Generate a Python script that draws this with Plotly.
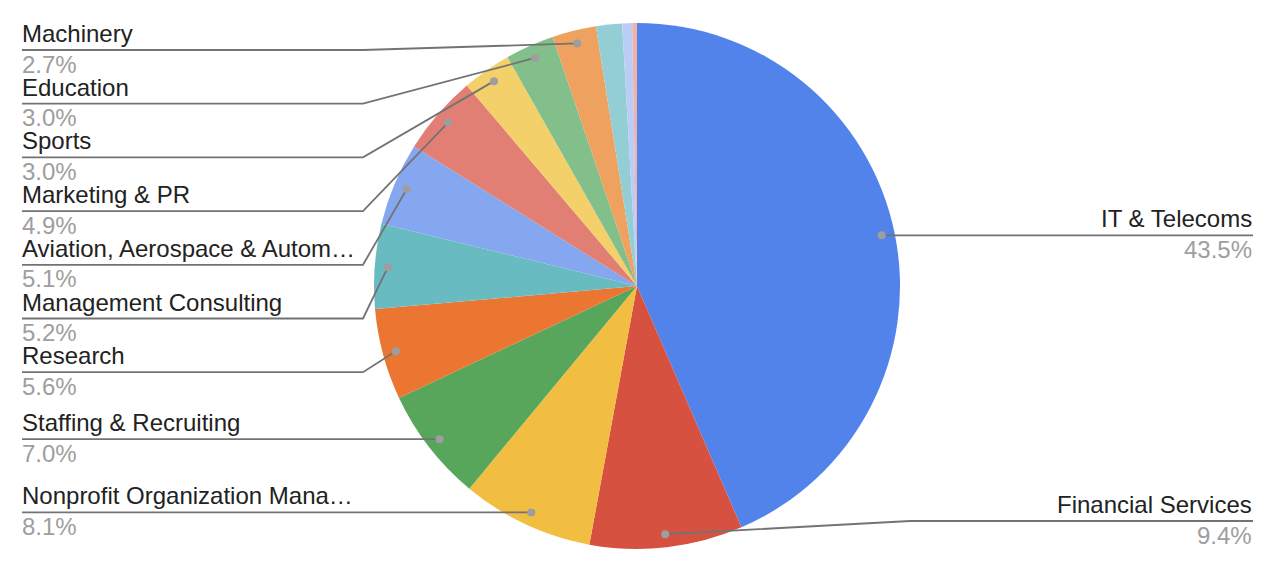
import math
import plotly.graph_objects as go

# ---- data ----
labels = [
    "IT & Telecoms", "Financial Services", "Nonprofit Organization Mana…",
    "Staffing & Recruiting", "Research", "Management Consulting",
    "Aviation, Aerospace & Autom…", "Marketing & PR", "Sports", "Education",
    "Machinery", "Other A", "Other B", "Other C",
]
values = [43.5, 9.4, 8.1, 7.0, 5.6, 5.2, 5.1, 4.9, 3.0, 3.0, 2.7, 1.6, 0.6, 0.3]
colors = [
    "#5283EB", "#D75140", "#F1BE42", "#58A65C", "#EB7632", "#68BCC1",
    "#85A7EF", "#E17F75", "#F4D06A", "#82BF8A", "#EFA15F", "#93CED5",
    "#B9CDF7", "#EFB3AA",
]

# ---- layout constants (pixels in the 1272x570 window) ----
WIN_W, WIN_H = 1272, 570
PAGE_MARGIN = 8  # default body margin of the html page
W, H = WIN_W - PAGE_MARGIN, WIN_H - PAGE_MARGIN
CX, CY, R = 637, 286, 263
DOT_R = 0.95 * R
LABEL_MIN_PCT = 2.0
LEFT_TEXT_X, LEFT_BEND_X = 22, 363
RIGHT_TEXT_X, RIGHT_BEND_X = 1253, 910
SPACING = 53.7
TOP_MIN, BOTTOM_MAX = 50, 521
NAME_DY, PCT_DY = -16.5, 14.0
FONT = "Arial, Liberation Sans, sans-serif"
LINE_COLOR = "#737373"
DOT_COLOR = "#9E9E9E"


def px(x):
    return (x - PAGE_MARGIN) / W


def py(y):
    return 1 - (y - PAGE_MARGIN) / H


total = sum(values)
fig = go.Figure(
    go.Pie(
        labels=labels,
        values=values,
        sort=False,
        direction="clockwise",
        rotation=0,
        textinfo="none",
        hoverinfo="label+percent",
        marker=dict(colors=colors, line=dict(width=0)),
        domain=dict(x=[px(CX - R), px(CX + R)], y=[py(CY + R), py(CY - R)]),
        showlegend=False,
    )
)

# compute dot positions from data
items = []
cum = 0.0
for lab, v in zip(labels, values):
    theta = 2 * math.pi * (cum + v / 2) / total
    cum += v
    pct = 100 * v / total
    dx = CX + DOT_R * math.sin(theta)
    dy = CY - DOT_R * math.cos(theta)
    if pct >= LABEL_MIN_PCT:
        items.append(dict(label=lab, pct=pct, x=dx, y=dy, right=dx > CX))

shapes = []
annotations = []


def add_label(it, ly):
    if it["right"]:
        pts = [(it["x"], it["y"]), (RIGHT_BEND_X, ly), (RIGHT_TEXT_X, ly)]
        tx, anchor = RIGHT_TEXT_X + 1, "right"
    else:
        pts = [(LEFT_TEXT_X, ly), (LEFT_BEND_X, ly), (it["x"], it["y"])]
        tx, anchor = LEFT_TEXT_X - 2, "left"
    path = "M " + " L ".join(f"{px(a):.5f},{py(b):.5f}" for a, b in pts)
    shapes.append(dict(type="path", path=path, xref="paper", yref="paper",
                       line=dict(color=LINE_COLOR, width=1.8), layer="above"))
    rr = 4
    shapes.append(dict(type="circle", xref="paper", yref="paper",
                       x0=px(it["x"] - rr), x1=px(it["x"] + rr),
                       y0=py(it["y"] + rr), y1=py(it["y"] - rr),
                       fillcolor=DOT_COLOR, line=dict(width=0), layer="above"))
    annotations.append(dict(x=px(tx), y=py(ly + NAME_DY), xref="paper", yref="paper",
                            text=it["label"], showarrow=False, xanchor=anchor,
                            yanchor="middle", font=dict(family=FONT, size=24, color="#222222")))
    annotations.append(dict(x=px(tx), y=py(ly + PCT_DY), xref="paper", yref="paper",
                            text=f"{it['pct']:.1f}%", showarrow=False, xanchor=anchor,
                            yanchor="middle", font=dict(family=FONT, size=24, color="#9E9E9E")))


left = sorted([i for i in items if not i["right"]], key=lambda d: d["y"])
prev = None
for it in left:
    ly = max(it["y"], TOP_MIN) if prev is None else max(it["y"], prev + SPACING)
    add_label(it, ly)
    prev = ly

right = sorted([i for i in items if i["right"]], key=lambda d: d["y"])
prev = None
for it in right:
    ly = min(it["y"], BOTTOM_MAX)
    if prev is not None:
        ly = max(ly, prev + SPACING)
    add_label(it, ly)
    prev = ly

fig.update_layout(
    width=W, height=H,
    margin=dict(l=0, r=0, t=0, b=0),
    paper_bgcolor="white", plot_bgcolor="white",
    showlegend=False,
    shapes=shapes, annotations=annotations,
    font=dict(family=FONT),
)

fig.write_html("out.html")
